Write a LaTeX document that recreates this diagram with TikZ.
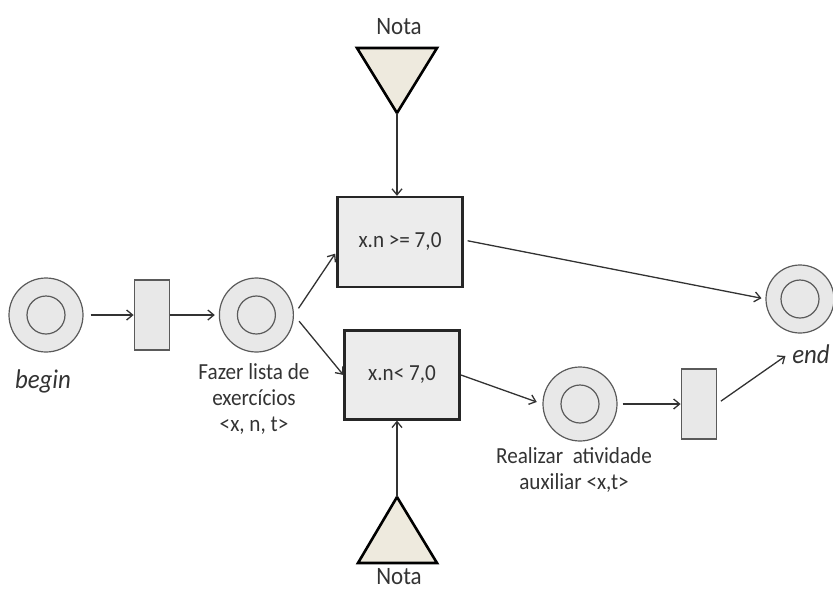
\documentclass[tikz,border=0pt]{standalone}
\usepackage{fontspec}
\setmainfont{Carlito}[FakeStretch=0.92]
\usetikzlibrary{arrows.meta, positioning}
\definecolor{placefill}{RGB}{232,232,232}
\definecolor{placeline}{RGB}{90,90,90}
\definecolor{boxfill}{RGB}{236,236,236}
\definecolor{notafill}{RGB}{238,234,222}
\definecolor{arrowcolor}{RGB}{50,50,50}
\tikzset{
    place/.style={circle, draw=placeline, line width=1.2pt, fill=placefill,
        minimum size=74pt, inner sep=0pt,
        path picture={\draw[placeline, line width=1.2pt] (path picture bounding box.center) circle (19pt);}},
    trans/.style={rectangle, draw=placeline, line width=1.2pt, fill=placefill,
        minimum width=35pt, minimum height=70pt, inner sep=0pt},
    cond/.style={rectangle, draw=black!85, line width=2.4pt, fill=boxfill,
        minimum height=89pt, font=\fontsize{23}{27}\selectfont, text=black!80},
    nota/.style={draw=black, line width=2.6pt, fill=notafill, line join=miter},
    notalbl/.style={font=\fontsize{25}{28}\selectfont, text=black!80},
    lbl/.style={align=center, font=\fontsize{23}{26}\selectfont, text=black!80},
    italiclbl/.style={font=\fontsize{27}{30}\selectfont\itshape, text=black!80},
    arrow/.style={-{Straight Barb[length=6pt,width=10pt]}, draw=arrowcolor, line width=1.3pt}
}

\begin{document}
\begin{tikzpicture}[x=1pt, y=1pt]
    \useasboundingbox (0,0) rectangle (833,-590);

    % places and transitions
    \node[place] (begin) at (46,-315) {};
    \node[italiclbl, anchor=base] (beginlbl) at (43,-388) {begin};
    \node[trans, right=50pt of begin] (t1) {};
    \node[place, right=49pt of t1] (fazer) {};
    \node[lbl, anchor=base] (fazerlbl) at (254,-431) {Fazer lista de\\exercícios\\<x, n, t>};

    \node[cond, minimum width=125pt, minimum height=90pt] (hi) at (400,-242) {x.n >= 7,0};
    \node[cond, minimum width=115pt, below=41pt of hi, xshift=2pt] (lo) {x.n< 7,0};

    \node[place] (real) at (580,-404) {};
    \node[lbl, anchor=base] (reallbl) at (574,-489) {Realizar\ \ atividade\\auxiliar <x,t>};
    \node[trans, right=63pt of real] (t2) {};

    \node[place, minimum size=68pt] (endp) at (800,-299) {};
    \node[italiclbl, anchor=base] (endlbl) at (811,-363) {end};

    % Nota triangles
    \node[notalbl] (notauplbl) at (399,-27) {Nota};
    \coordinate (notaup) at (397,-113);
    \draw[nota] (357,-48) -- (437,-48) -- (notaup) -- cycle;
    \node[notalbl, anchor=base] (notadownlbl) at (399,-584) {Nota};
    \coordinate (notadown) at (397,-497);
    \draw[nota] (358,-563) -- (437,-563) -- (notadown) -- cycle;

    % arcs
    \draw[arrow, shorten <=7pt] (begin) -- (t1);
    \draw[arrow, shorten >=4pt] (t1) -- (fazer);
    \draw[arrow, shorten <=8pt, shorten >=2pt] (fazer.east) -- ([yshift=-10pt]hi.west);
    \draw[arrow, shorten <=8pt] (fazer.east) -- (lo.west);
    \draw[arrow] (notaup) -- (notaup |- hi.north);
    \draw[arrow] (notadown) -- (notadown |- lo.south);
    \draw[arrow, shorten <=4pt, shorten >=4pt] ([yshift=2pt]hi.east) -- (endp.west);
    \draw[arrow, shorten >=6pt] (lo.east) -- (real.west);
    \draw[arrow, shorten <=5pt] (real.east) -- (t2.west);
    \draw[arrow, shorten <=5pt, shorten >=4pt] (t2.east) -- (endlbl.west);

\end{tikzpicture}
\end{document}
